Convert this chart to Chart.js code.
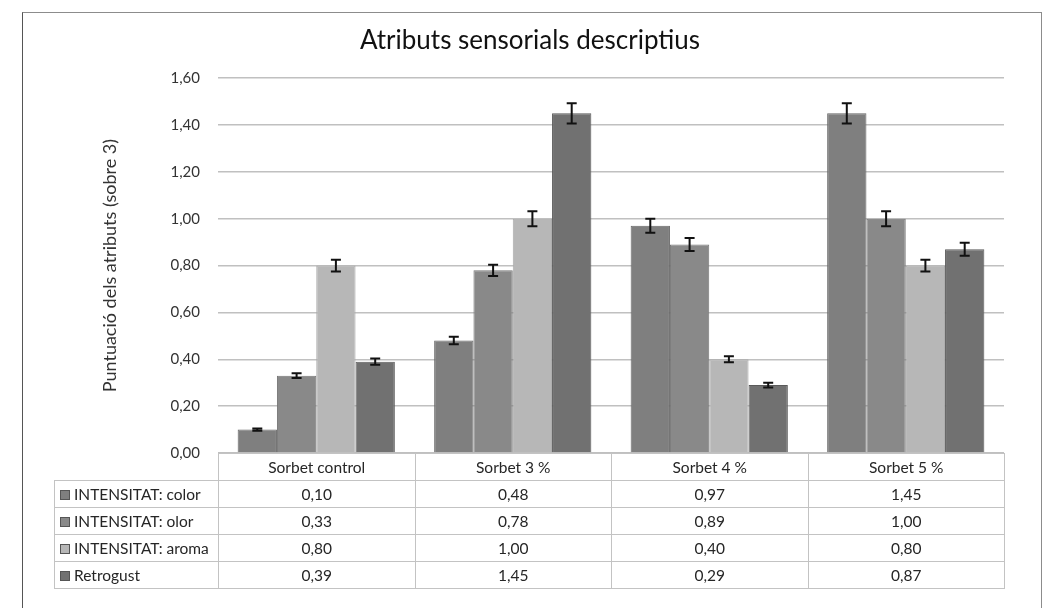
<!DOCTYPE html>
<html>
<head>
<meta charset="utf-8">
<script src="https://cdn.jsdelivr.net/npm/chart.js@4/dist/chart.umd.min.js"></script>
<style>
  body { margin: 0; background: #fff; }
  #wrap { position: relative; width: 1046px; height: 608px; overflow: hidden; }
  #frame { position: absolute; left: 22px; top: 12px; width: 1020px; height: 640px;
           border: 1.5px solid #8c8c8c; border-left-color: #555; box-sizing: border-box; }
  canvas { position: absolute; left: 0; top: 0; }
  #dataTable { position: absolute; border-collapse: collapse; font-family: Lato, sans-serif;
               font-size: 15.5px; color: #262626; table-layout: fixed; }
  #dataTable td { border: 1.5px solid #c3c3c3; text-align: center; padding: 0; height: 26px; }
  #dataTable td.name { text-align: left; padding-left: 5px; white-space: nowrap; }
  #dataTable td.blank { border: none; }
  .sw { display: inline-block; width: 8px; height: 8px; border: 1px solid #555;
        margin-right: 4px; vertical-align: 0px; }
</style>
</head>
<body>
<div id="wrap">
  <div id="frame"></div>
  <canvas id="chart" width="1046" height="608"></canvas>
</div>
<script>
const categories = ['Sorbet control', 'Sorbet 3 %', 'Sorbet 4 %', 'Sorbet 5 %'];
const seriesNames = ['INTENSITAT: color', 'INTENSITAT: olor', 'INTENSITAT: aroma', 'Retrogust'];
const colorValues = [0.10, 0.48, 0.97, 1.45];
const olorValues = [0.33, 0.78, 0.89, 1.00];
const aromaValues = [0.80, 1.00, 0.40, 0.80];
const retrogustValues = [0.39, 1.45, 0.29, 0.87];
// error bars
const colorErrors = [0.005, 0.016, 0.030, 0.043];
const olorErrors = [0.010, 0.024, 0.028, 0.032];
const aromaErrors = [0.025, 0.032, 0.013, 0.025];
const retrogustErrors = [0.013, 0.043, 0.010, 0.028];
const yTicks = [0, 0.2, 0.4, 0.6, 0.8, 1.0, 1.2, 1.4, 1.6];

const fills = ['#7f7f7f', '#898989', '#b7b7b7', '#717171'];
const edges = ['#666666', '#777777', '#a9a9a9', '#5a5a5a'];
const values = [colorValues, olorValues, aromaValues, retrogustValues];
const errors = [colorErrors, olorErrors, aromaErrors, retrogustErrors];

const fmt = v => v.toFixed(2).replace('.', ',');

const errorBars = {
  id: 'errorBars',
  afterDatasetsDraw(chart) {
    const ctx = chart.ctx;
    const y = chart.scales.y;
    ctx.save();
    ctx.strokeStyle = '#111';
    ctx.lineWidth = 2;
    chart.data.datasets.forEach((ds, i) => {
      chart.getDatasetMeta(i).data.forEach((bar, j) => {
        const v = ds.data[j], e = ds.errors[j];
        const top = y.getPixelForValue(v + e);
        const bot = y.getPixelForValue(v - e);
        ctx.beginPath();
        ctx.moveTo(bar.x, top); ctx.lineTo(bar.x, bot);
        ctx.moveTo(bar.x - 5, top); ctx.lineTo(bar.x + 5, top);
        ctx.moveTo(bar.x - 5, bot); ctx.lineTo(bar.x + 5, bot);
        ctx.stroke();
      });
    });
    ctx.restore();
  }
};

const chart = new Chart(document.getElementById('chart'), {
  type: 'bar',
  data: {
    labels: categories,
    datasets: seriesNames.map((name, i) => ({
      label: name,
      data: values[i],
      errors: errors[i],
      backgroundColor: fills[i],
      borderColor: edges[i],
      borderWidth: 1,
      categoryPercentage: 0.8,
      barPercentage: 1.0
    }))
  },
  options: {
    responsive: false,
    animation: false,
    layout: { padding: { left: 56, right: 42, top: 0, bottom: 155 } },
    plugins: {
      legend: { display: false },
      tooltip: { enabled: false },
      title: {
        display: true,
        text: 'Atributs sensorials descriptius',
        color: '#111',
        font: { family: 'Lato, sans-serif', size: 26, weight: 'normal' },
        padding: { top: 25, bottom: 22 }
      }
    },
    scales: {
      x: { display: false },
      y: {
        min: 0,
        max: 1.6,
        afterBuildTicks: scale => { scale.ticks = yTicks.map(v => ({ value: v })); },
        afterFit: scale => { scale.width = 218 - 56; },
        border: { display: false },
        grid: { color: '#c0c0c0', lineWidth: 1.5, drawTicks: false },
        ticks: {
          padding: 18,
          color: '#333',
          font: { family: 'Lato, sans-serif', size: 15 },
          callback: v => fmt(v)
        },
        title: {
          display: true,
          text: 'Puntuació dels atributs (sobre 3)',
          color: '#333',
          font: { family: 'Lato, sans-serif', size: 18 },
          padding: { top: 43, bottom: 0 }
        }
      }
    }
  },
  plugins: [errorBars]
});

// data table under the plot, aligned with the category columns
(function buildTable() {
  const area = chart.chartArea;
  const colW = (area.right - area.left) / categories.length;
  const nameW = 164;
  const table = document.createElement('table');
  table.id = 'dataTable';
  table.style.left = (area.left - nameW) + 'px';
  table.style.top = area.bottom + 'px';
  table.style.width = (nameW + colW * categories.length) + 'px';
  const cg = document.createElement('colgroup');
  [nameW].concat(categories.map(() => colW)).forEach(w => {
    const c = document.createElement('col'); c.style.width = w + 'px'; cg.appendChild(c);
  });
  table.appendChild(cg);
  const head = table.insertRow();
  const blank = head.insertCell(); blank.className = 'blank';
  categories.forEach(c => { head.insertCell().textContent = c; });
  seriesNames.forEach((name, i) => {
    const r = table.insertRow();
    const n = r.insertCell(); n.className = 'name';
    const sw = document.createElement('span'); sw.className = 'sw'; sw.style.background = fills[i];
    n.appendChild(sw); n.appendChild(document.createTextNode(name));
    values[i].forEach(v => { r.insertCell().textContent = fmt(v); });
  });
  document.getElementById('wrap').appendChild(table);
})();
</script>
</body>
</html>
